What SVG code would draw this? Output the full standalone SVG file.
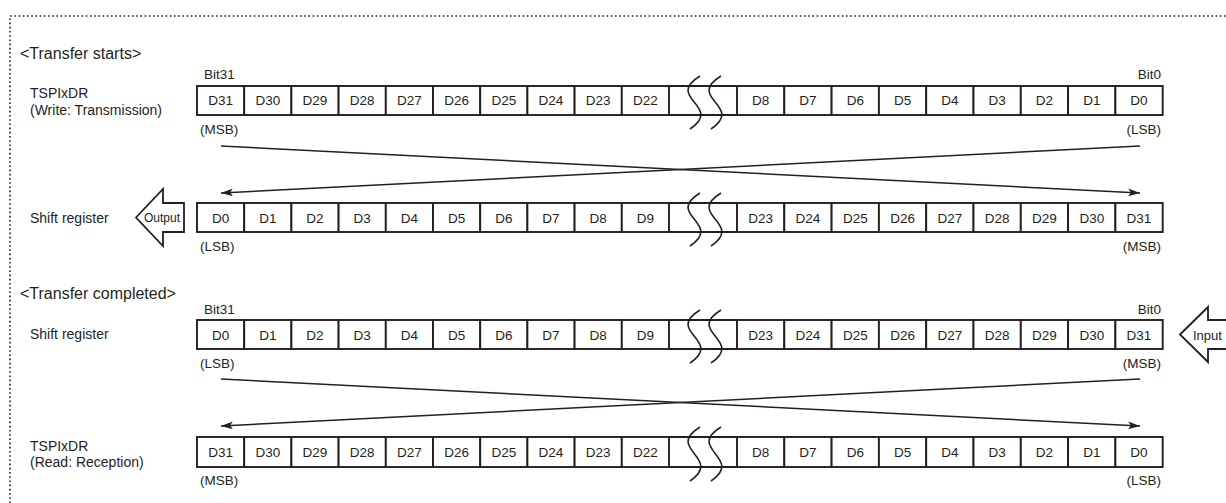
<svg xmlns="http://www.w3.org/2000/svg" width="1226" height="503" viewBox="0 0 1226 503">
<style>
text{font-family:"Liberation Sans",Arial,sans-serif;fill:#231f20}
.h{font-size:16px}
.l{font-size:14px}
.c{font-size:13.5px;text-anchor:middle}
.s{font-size:13.5px}
.r{text-anchor:end}
.cell{fill:#fff;stroke:#231f20;stroke-width:1.9}
.edge{stroke:#231f20;stroke-width:1.9;fill:none}
.brk{stroke:#231f20;stroke-width:1.6;fill:none}
.arr{fill:#fff;stroke:#231f20;stroke-width:1.8;stroke-linejoin:miter}
.con{stroke:#231f20;stroke-width:1.5;fill:none}
</style>
<defs>
<marker id="ah" markerUnits="userSpaceOnUse" markerWidth="14" markerHeight="10" refX="12" refY="4" orient="auto">
<path d="M0,0 L12,4 L0,8 L3,4 Z" fill="#231f20"/>
</marker>
</defs>
<path d="M10,503 V16 H1226" fill="none" stroke="#231f20" stroke-width="1.6" stroke-dasharray="1.6 2.6"/>

<g id="heading-start"><text class="h" x="20" y="59">&lt;Transfer starts&gt;</text></g>
<g id="label-tx"><text class="l" x="30" y="98">TSPIxDR</text><text class="l" x="30" y="115">(Write: Transmission)</text></g>

<g id="reg-tx">
<text class="s" x="204" y="79">Bit31</text><text class="s r" x="1161" y="79">Bit0</text>
<g>
<rect class="cell" x="197" y="86" width="47.2" height="29"/><rect class="cell" x="244.2" y="86" width="47.2" height="29"/><rect class="cell" x="291.4" y="86" width="47.2" height="29"/><rect class="cell" x="338.6" y="86" width="47.2" height="29"/><rect class="cell" x="385.8" y="86" width="47.2" height="29"/><rect class="cell" x="433" y="86" width="47.2" height="29"/><rect class="cell" x="480.2" y="86" width="47.2" height="29"/><rect class="cell" x="527.4" y="86" width="47.2" height="29"/><rect class="cell" x="574.6" y="86" width="47.2" height="29"/><rect class="cell" x="621.8" y="86" width="47.2" height="29"/>
<path class="edge" d="M669,86 H737 M669,115 H737"/>
<rect class="cell" x="737" y="86" width="47.3" height="29"/><rect class="cell" x="784.3" y="86" width="47.3" height="29"/><rect class="cell" x="831.6" y="86" width="47.3" height="29"/><rect class="cell" x="878.9" y="86" width="47.3" height="29"/><rect class="cell" x="926.2" y="86" width="47.3" height="29"/><rect class="cell" x="973.5" y="86" width="47.3" height="29"/><rect class="cell" x="1020.8" y="86" width="47.3" height="29"/><rect class="cell" x="1068.1" y="86" width="47.3" height="29"/><rect class="cell" x="1115.4" y="86" width="47.3" height="29"/>
<path class="brk" d="M700,76 C664,98 724,106 690,129 M721,76 C685,98 745,106 711,129"/>
</g>
<text class="c" x="220.6" y="105">D31</text><text class="c" x="267.8" y="105">D30</text><text class="c" x="315" y="105">D29</text><text class="c" x="362.2" y="105">D28</text><text class="c" x="409.4" y="105">D27</text><text class="c" x="456.6" y="105">D26</text><text class="c" x="503.8" y="105">D25</text><text class="c" x="551" y="105">D24</text><text class="c" x="598.2" y="105">D23</text><text class="c" x="645.4" y="105">D22</text>
<text class="c" x="760.6" y="105">D8</text><text class="c" x="808" y="105">D7</text><text class="c" x="855.3" y="105">D6</text><text class="c" x="902.6" y="105">D5</text><text class="c" x="949.9" y="105">D4</text><text class="c" x="997.2" y="105">D3</text><text class="c" x="1044.5" y="105">D2</text><text class="c" x="1091.8" y="105">D1</text><text class="c" x="1139" y="105">D0</text>
<text class="s" x="200" y="134">(MSB)</text><text class="s r" x="1161" y="134">(LSB)</text>
</g>

<g id="label-sr1"><text class="l" x="30" y="223">Shift register</text></g>
<g id="arrow-output"><polygon class="arr" points="136,217.5 163,189 163,203 184,203 184,232 163,232 163,246"/><text x="162" y="222" font-size="12" text-anchor="middle">Output</text></g>

<g id="reg-sr1">
<g>
<rect class="cell" x="197" y="203" width="47.2" height="29"/><rect class="cell" x="244.2" y="203" width="47.2" height="29"/><rect class="cell" x="291.4" y="203" width="47.2" height="29"/><rect class="cell" x="338.6" y="203" width="47.2" height="29"/><rect class="cell" x="385.8" y="203" width="47.2" height="29"/><rect class="cell" x="433" y="203" width="47.2" height="29"/><rect class="cell" x="480.2" y="203" width="47.2" height="29"/><rect class="cell" x="527.4" y="203" width="47.2" height="29"/><rect class="cell" x="574.6" y="203" width="47.2" height="29"/><rect class="cell" x="621.8" y="203" width="47.2" height="29"/>
<path class="edge" d="M669,203 H737 M669,232 H737"/>
<rect class="cell" x="737" y="203" width="47.3" height="29"/><rect class="cell" x="784.3" y="203" width="47.3" height="29"/><rect class="cell" x="831.6" y="203" width="47.3" height="29"/><rect class="cell" x="878.9" y="203" width="47.3" height="29"/><rect class="cell" x="926.2" y="203" width="47.3" height="29"/><rect class="cell" x="973.5" y="203" width="47.3" height="29"/><rect class="cell" x="1020.8" y="203" width="47.3" height="29"/><rect class="cell" x="1068.1" y="203" width="47.3" height="29"/><rect class="cell" x="1115.4" y="203" width="47.3" height="29"/>
<path class="brk" d="M700,193 C664,215 724,223 690,246 M721,193 C685,215 745,223 711,246"/>
</g>
<text class="c" x="220.6" y="222.5">D0</text><text class="c" x="267.8" y="222.5">D1</text><text class="c" x="315" y="222.5">D2</text><text class="c" x="362.2" y="222.5">D3</text><text class="c" x="409.4" y="222.5">D4</text><text class="c" x="456.6" y="222.5">D5</text><text class="c" x="503.8" y="222.5">D6</text><text class="c" x="551" y="222.5">D7</text><text class="c" x="598.2" y="222.5">D8</text><text class="c" x="645.4" y="222.5">D9</text>
<text class="c" x="760.6" y="222.5">D23</text><text class="c" x="808" y="222.5">D24</text><text class="c" x="855.3" y="222.5">D25</text><text class="c" x="902.6" y="222.5">D26</text><text class="c" x="949.9" y="222.5">D27</text><text class="c" x="997.2" y="222.5">D28</text><text class="c" x="1044.5" y="222.5">D29</text><text class="c" x="1091.8" y="222.5">D30</text><text class="c" x="1139" y="222.5">D31</text>
<text class="s" x="200" y="251">(LSB)</text><text class="s r" x="1161" y="251">(MSB)</text>
</g>

<g id="heading-complete"><text class="h" x="20" y="299">&lt;Transfer completed&gt;</text></g>
<g id="label-sr2"><text class="l" x="30" y="339">Shift register</text></g>

<g id="reg-sr2">
<text class="s" x="204" y="314">Bit31</text><text class="s r" x="1161" y="314">Bit0</text>
<g>
<rect class="cell" x="197" y="320" width="47.2" height="29"/><rect class="cell" x="244.2" y="320" width="47.2" height="29"/><rect class="cell" x="291.4" y="320" width="47.2" height="29"/><rect class="cell" x="338.6" y="320" width="47.2" height="29"/><rect class="cell" x="385.8" y="320" width="47.2" height="29"/><rect class="cell" x="433" y="320" width="47.2" height="29"/><rect class="cell" x="480.2" y="320" width="47.2" height="29"/><rect class="cell" x="527.4" y="320" width="47.2" height="29"/><rect class="cell" x="574.6" y="320" width="47.2" height="29"/><rect class="cell" x="621.8" y="320" width="47.2" height="29"/>
<path class="edge" d="M669,320 H737 M669,349 H737"/>
<rect class="cell" x="737" y="320" width="47.3" height="29"/><rect class="cell" x="784.3" y="320" width="47.3" height="29"/><rect class="cell" x="831.6" y="320" width="47.3" height="29"/><rect class="cell" x="878.9" y="320" width="47.3" height="29"/><rect class="cell" x="926.2" y="320" width="47.3" height="29"/><rect class="cell" x="973.5" y="320" width="47.3" height="29"/><rect class="cell" x="1020.8" y="320" width="47.3" height="29"/><rect class="cell" x="1068.1" y="320" width="47.3" height="29"/><rect class="cell" x="1115.4" y="320" width="47.3" height="29"/>
<path class="brk" d="M700,310 C664,332 724,340 690,363 M721,310 C685,332 745,340 711,363"/>
</g>
<text class="c" x="220.6" y="339.5">D0</text><text class="c" x="267.8" y="339.5">D1</text><text class="c" x="315" y="339.5">D2</text><text class="c" x="362.2" y="339.5">D3</text><text class="c" x="409.4" y="339.5">D4</text><text class="c" x="456.6" y="339.5">D5</text><text class="c" x="503.8" y="339.5">D6</text><text class="c" x="551" y="339.5">D7</text><text class="c" x="598.2" y="339.5">D8</text><text class="c" x="645.4" y="339.5">D9</text>
<text class="c" x="760.6" y="339.5">D23</text><text class="c" x="808" y="339.5">D24</text><text class="c" x="855.3" y="339.5">D25</text><text class="c" x="902.6" y="339.5">D26</text><text class="c" x="949.9" y="339.5">D27</text><text class="c" x="997.2" y="339.5">D28</text><text class="c" x="1044.5" y="339.5">D29</text><text class="c" x="1091.8" y="339.5">D30</text><text class="c" x="1139" y="339.5">D31</text>
<text class="s" x="200" y="368">(LSB)</text><text class="s r" x="1161" y="368">(MSB)</text>
</g>

<g id="arrow-input"><polygon class="arr" points="1180,334.5 1208,307 1208,320 1240,320 1240,349 1208,349 1208,362"/><text x="1193" y="339.5" font-size="13">Input</text></g>

<g id="label-rx"><text class="l" x="30" y="451">TSPIxDR</text><text class="l" x="30" y="467">(Read: Reception)</text></g>

<g id="reg-rx">
<g>
<rect class="cell" x="197" y="437" width="47.2" height="30"/><rect class="cell" x="244.2" y="437" width="47.2" height="30"/><rect class="cell" x="291.4" y="437" width="47.2" height="30"/><rect class="cell" x="338.6" y="437" width="47.2" height="30"/><rect class="cell" x="385.8" y="437" width="47.2" height="30"/><rect class="cell" x="433" y="437" width="47.2" height="30"/><rect class="cell" x="480.2" y="437" width="47.2" height="30"/><rect class="cell" x="527.4" y="437" width="47.2" height="30"/><rect class="cell" x="574.6" y="437" width="47.2" height="30"/><rect class="cell" x="621.8" y="437" width="47.2" height="30"/>
<path class="edge" d="M669,437 H737 M669,467 H737"/>
<rect class="cell" x="737" y="437" width="47.3" height="30"/><rect class="cell" x="784.3" y="437" width="47.3" height="30"/><rect class="cell" x="831.6" y="437" width="47.3" height="30"/><rect class="cell" x="878.9" y="437" width="47.3" height="30"/><rect class="cell" x="926.2" y="437" width="47.3" height="30"/><rect class="cell" x="973.5" y="437" width="47.3" height="30"/><rect class="cell" x="1020.8" y="437" width="47.3" height="30"/><rect class="cell" x="1068.1" y="437" width="47.3" height="30"/><rect class="cell" x="1115.4" y="437" width="47.3" height="30"/>
<path class="brk" d="M700,427 C664,449 724,458 690,481 M721,427 C685,449 745,458 711,481"/>
</g>
<text class="c" x="220.6" y="457">D31</text><text class="c" x="267.8" y="457">D30</text><text class="c" x="315" y="457">D29</text><text class="c" x="362.2" y="457">D28</text><text class="c" x="409.4" y="457">D27</text><text class="c" x="456.6" y="457">D26</text><text class="c" x="503.8" y="457">D25</text><text class="c" x="551" y="457">D24</text><text class="c" x="598.2" y="457">D23</text><text class="c" x="645.4" y="457">D22</text>
<text class="c" x="760.6" y="457">D8</text><text class="c" x="808" y="457">D7</text><text class="c" x="855.3" y="457">D6</text><text class="c" x="902.6" y="457">D5</text><text class="c" x="949.9" y="457">D4</text><text class="c" x="997.2" y="457">D3</text><text class="c" x="1044.5" y="457">D2</text><text class="c" x="1091.8" y="457">D1</text><text class="c" x="1139" y="457">D0</text>
<text class="s" x="200" y="485">(MSB)</text><text class="s r" x="1161" y="485">(LSB)</text>
</g>

<g id="connectors">
<line class="con" x1="221" y1="146" x2="1140" y2="193" marker-end="url(#ah)"/>
<line class="con" x1="1140" y1="146" x2="221" y2="193" marker-end="url(#ah)"/>
<line class="con" x1="221" y1="379" x2="1140" y2="426" marker-end="url(#ah)"/>
<line class="con" x1="1140" y1="379" x2="221" y2="426" marker-end="url(#ah)"/>
</g>
</svg>
